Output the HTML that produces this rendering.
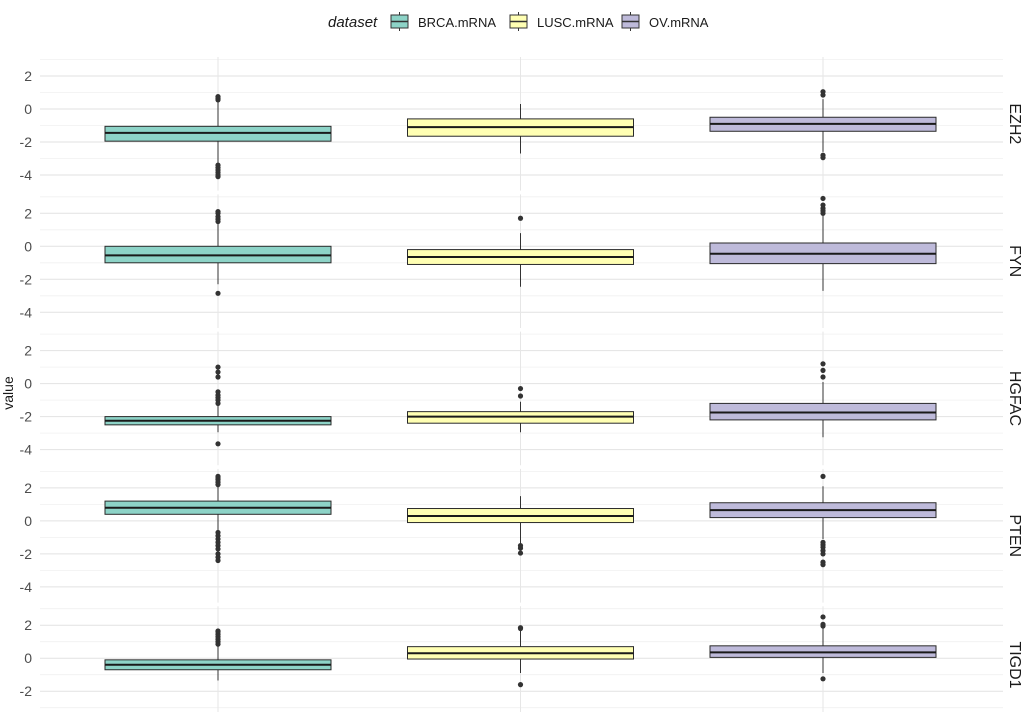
<!DOCTYPE html>
<html><head><meta charset="utf-8"><style>
body{margin:0;background:#fff;}
svg{display:block;font-family:"Liberation Sans",Arial,sans-serif;}
</style></head><body>
<svg id="chart" width="1034" height="712" viewBox="0 0 1034 712">
<g id="legend">
<text x="328" y="27" font-size="15" font-style="italic" fill="#1a1a1a">dataset</text>
</g>
<text transform="translate(13,393) rotate(-90)" text-anchor="middle" font-size="14" fill="#1a1a1a">value</text>
<g id="panels"></g>
</svg>
<script>
const genes = ["EZH2","FYN","HGFAC","PTEN","TIGD1"];
const datasets = ["BRCA.mRNA","LUSC.mRNA","OV.mRNA"];
const colors = ["#8dd3c7","#ffffb3","#bebada"];
const yTicks = [2,0,-2,-4];
const q1 = [[-1.95,-1.65,-1.35],[-1.0,-1.1,-1.05],[-2.5,-2.4,-2.2],[0.4,-0.1,0.2],[-0.7,-0.05,0.05]];
const med = [[-1.45,-1.1,-0.9],[-0.55,-0.65,-0.45],[-2.25,-2.0,-1.75],[0.8,0.3,0.65],[-0.4,0.3,0.35]];
const q3 = [[-1.05,-0.6,-0.5],[0.0,-0.2,0.2],[-2.0,-1.7,-1.2],[1.2,0.75,1.1],[-0.1,0.7,0.75]];
const whiskLo = [[-3.3,-2.7,-2.6],[-2.3,-2.45,-2.7],[-2.95,-2.95,-3.25],[-0.6,-1.4,-1.1],[-1.35,-0.9,-0.9]];
const whiskHi = [[0.4,0.3,0.6],[1.4,0.8,1.9],[-1.3,-1.1,0.1],[2.1,1.5,2.1],[0.8,1.7,1.8]];
const outliers = [
 [[0.55,0.65,0.75,-3.4,-3.55,-3.7,-3.85,-4.0,-4.1],[],[0.85,1.05,-2.8,-2.95]],
 [[1.5,1.65,1.8,2.0,2.1,-2.85],[1.7],[2.0,2.15,2.3,2.5,2.9]],
 [[-1.2,-1.0,-0.85,-0.7,-0.5,0.4,0.7,1.0,-3.65],[-0.75,-0.3],[0.4,0.8,1.2]],
 [[2.2,2.35,2.5,2.6,2.7,-0.7,-0.9,-1.1,-1.3,-1.5,-1.7,-2.0,-2.2,-2.4],[-1.5,-1.65,-1.95],[2.7,-1.3,-1.45,-1.6,-1.8,-2.0,-2.5,-2.65]],
 [[0.85,1.0,1.15,1.3,1.45,1.6,1.65],[1.8,1.85,-1.6],[1.95,2.05,2.5,-1.25]]
];
const NS="http://www.w3.org/2000/svg";
const svg=document.getElementById('panels');
function mk(tag,attrs,parent){const e=document.createElementNS(NS,tag);for(const k in attrs)e.setAttribute(k,attrs[k]);(parent||svg).appendChild(e);return e;}
const gridL=40, gridR=1003, catL=66.75, catW=302.5, boxW=226, panelStep=137.3, unit=16.5;
function xc(i){return catL+catW*(i+0.5);}
function yOf(p,v){return 109+p*panelStep - v*unit;}
genes.forEach((g,p)=>{
  const top=yOf(p,3.15), bot=Math.min(yOf(p,-4.95),712);
  const grp=mk('g',{});
  
  
  for(let v=-5;v<=3;v+=2){const y=yOf(p,v);if(y>top&&y<bot){mk('line',{x1:gridL,x2:gridR,y1:y,y2:y,stroke:'#f0f0f0','stroke-width':0.8},grp);}}
  yTicks.forEach(t=>{const y=yOf(p,t);if(y>712)return;
    const l=mk('line',{x1:gridL,x2:gridR,y1:y,y2:y,stroke:'#e2e2e2','stroke-width':1},grp);
    
    
    const tx=mk('text',{x:32,y:y+5,'text-anchor':'end','font-size':14,fill:'#4d4d4d'},grp);
    tx.textContent=t;  });
  datasets.forEach((d,i)=>{mk('line',{x1:xc(i),x2:xc(i),y1:top,y2:bot,stroke:'#e6e6e6','stroke-width':1},grp);});
  const cy = p==4 ? 665 : (top+yOf(p,-4.95))/2;
  const st=mk('text',{transform:`translate(1010,${cy}) rotate(90)`,'text-anchor':'middle','font-size':16,fill:'#1a1a1a'},grp);
  st.textContent=g;  
  datasets.forEach((d,i)=>{
    const b=mk('g',{},grp);
    
    
    const x=xc(i);
    mk('line',{x1:x,x2:x,y1:yOf(p,whiskHi[p][i]),y2:yOf(p,q3[p][i]),stroke:'#333','stroke-width':1},b);
    mk('line',{x1:x,x2:x,y1:yOf(p,q1[p][i]),y2:yOf(p,whiskLo[p][i]),stroke:'#333','stroke-width':1},b);
    mk('rect',{x:x-boxW/2,y:yOf(p,q3[p][i]),width:boxW,height:yOf(p,q1[p][i])-yOf(p,q3[p][i]),fill:colors[i],stroke:'#2a2a2a','stroke-width':1},b);
    mk('line',{x1:x-boxW/2,x2:x+boxW/2,y1:yOf(p,med[p][i]),y2:yOf(p,med[p][i]),stroke:'#1a1a1a','stroke-width':2},b);
    outliers[p][i].forEach(v=>{const c=mk('circle',{cx:x,cy:yOf(p,v),r:2.6,fill:'#333'},b);
       });
  });
});
const lg=document.getElementById('legend');
const lx=[391,510,622];
datasets.forEach((d,i)=>{
  const g=mk('g',{},lg);
  
  
  mk('line',{x1:lx[i]+8.5,x2:lx[i]+8.5,y1:12,y2:31,stroke:'#333','stroke-width':1},g);
  mk('rect',{x:lx[i],y:15,width:17,height:13,fill:colors[i],stroke:'#333','stroke-width':1},g);
  mk('line',{x1:lx[i],x2:lx[i]+17,y1:21.5,y2:21.5,stroke:'#333','stroke-width':1.5},g);
  const t=mk('text',{x:lx[i]+27,y:27,'font-size':13,fill:'#1a1a1a'},g); t.textContent=d;
});
</script>
</body></html>
